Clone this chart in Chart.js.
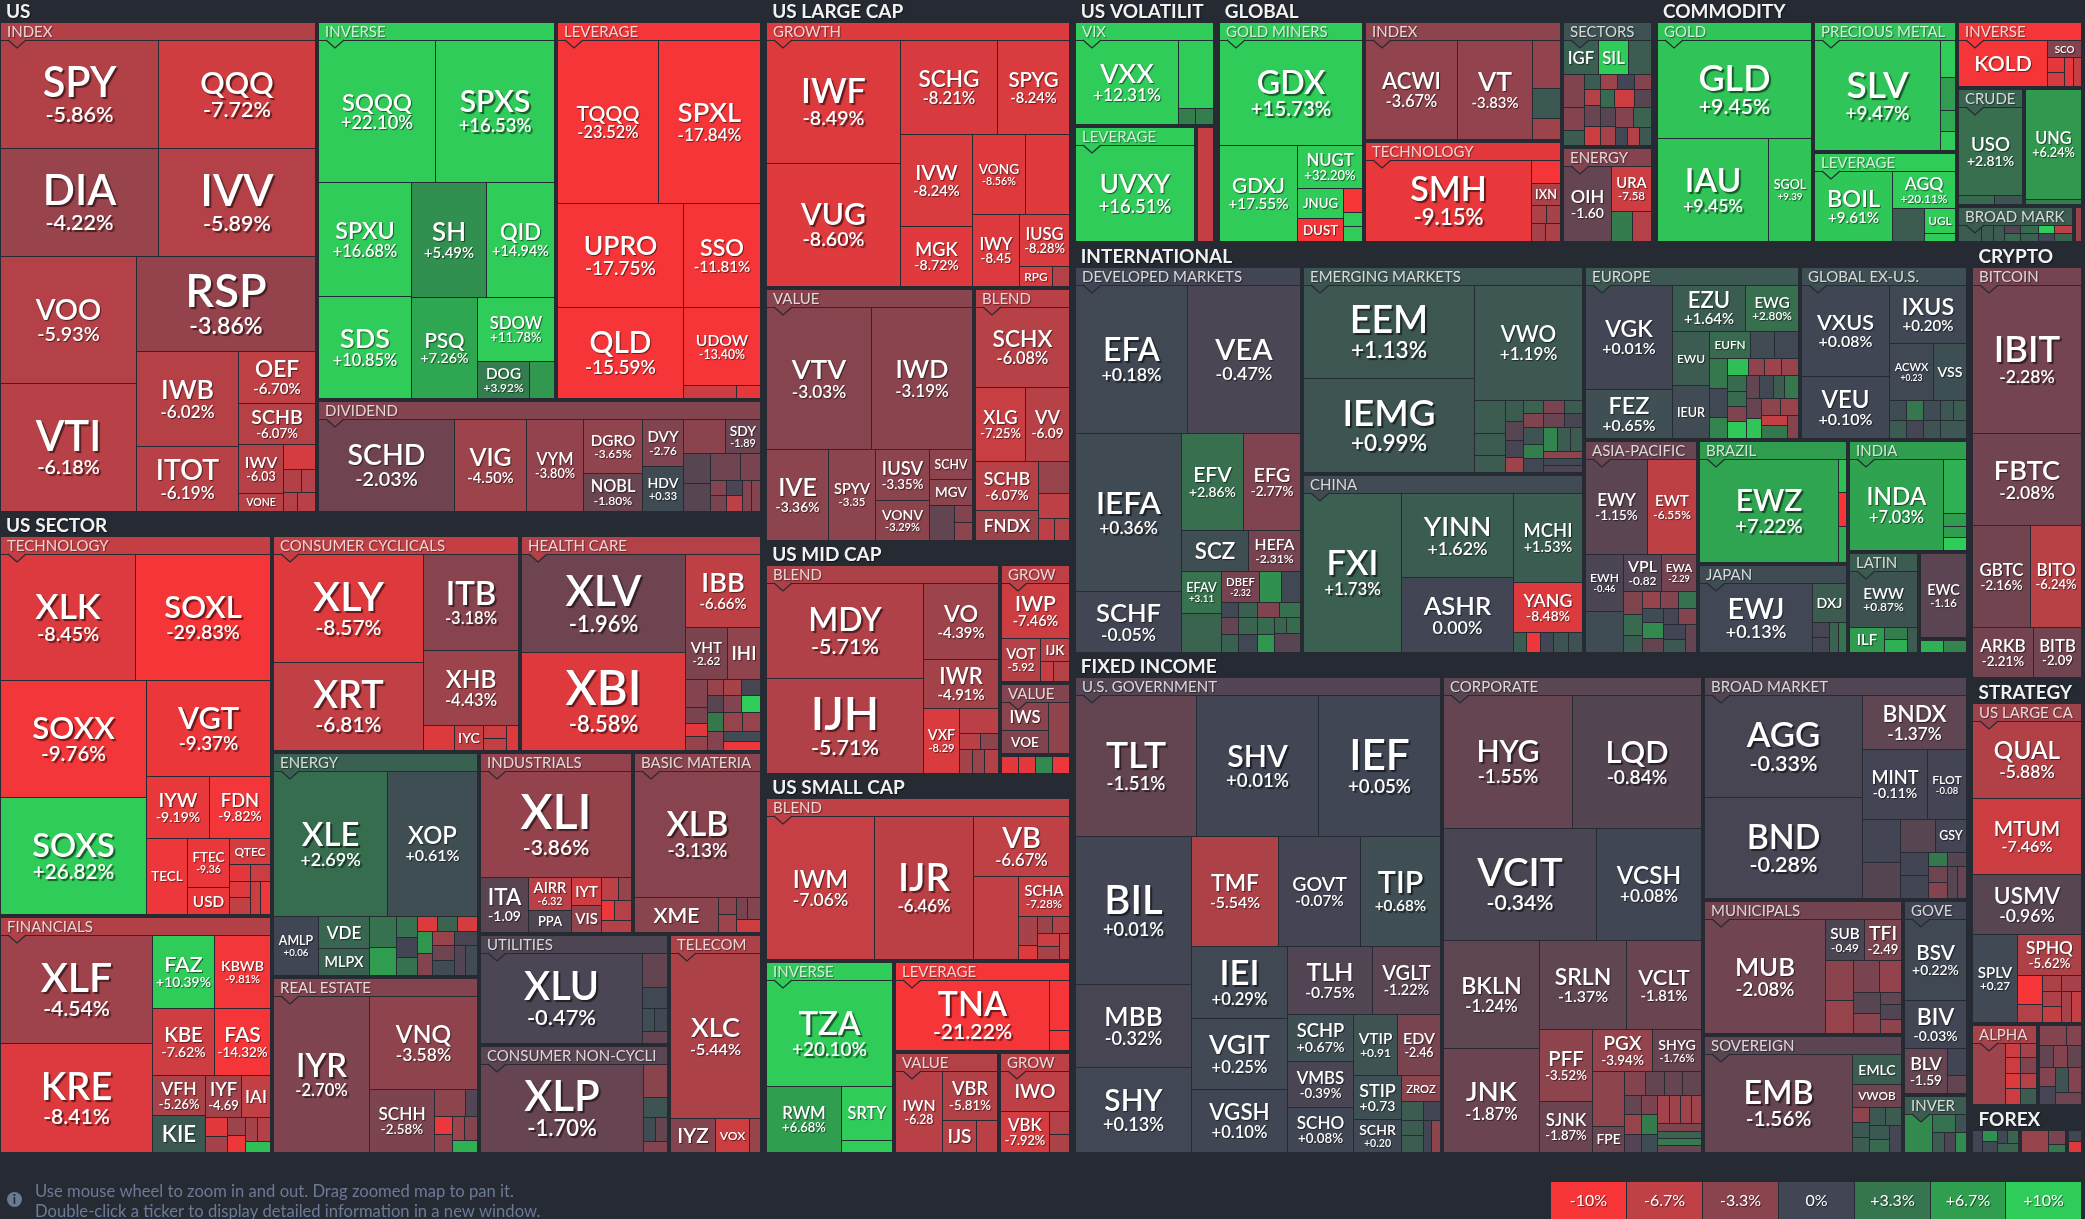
<!DOCTYPE html>
<html>
<head>
<meta charset="utf-8">
<title>ETF map</title>
<style>
  html, body { margin: 0; padding: 0; background: #262a33; overflow: hidden; }
  canvas { display: block; }
</style>
<script src="https://cdn.jsdelivr.net/npm/chart.js@4"></script>
</head>
<body>
<canvas id="myChart" width="2085" height="1219"></canvas>
<script>
// --- colour legend ---
const legendValues = [-10, -6.7, -3.3, 0, 3.3, 6.7, 10];
const legendLabels = ['-10%', '-6.7%', '-3.3%', '0%', '+3.3%', '+6.7%', '+10%'];
const legendColors = ['#f63538', '#bf4045', '#8b444e', '#414554', '#35764e', '#2f9e4f', '#30cc5a'];
const footerLines = ['Use mouse wheel to zoom in and out. Drag zoomed map to pan it.', 'Double-click a ticker to display detailed information in a new window.'];

// tickers that show no change line, and ones whose change has no % sign
const tickerOnly = ['VONE','TECL','USD','QTEC','IHI','IYC','IAI','KIE','VDE','MLPX','PPA','IYT','VIS','XME','IYZ','VOX','SCHV','MGV','FNDX','RPG','IJK','IWS','VOE','IWO','IJS','SRTY','JNUG','DUST','IXN','IGF','SIL','SCO','KOLD','UGL','SCZ','EWU','IEUR','EUFN','VSS','DXJ','ILF','ZROZ','FPE','GSY','VWOB','EMLC'];
const noPercent = ['IWV','DVY','SDY','HDV','FTEC','VHT','ITA','AIRR','AMLP','IYF','VOT','VXF','IWN','SPYV','IWY','VV','OIH','URA','SGOL','DBEF','EFAV','ACWX','EWH','VPL','EWA','EWC','VTIP','EDV','STIP','SCHR','FLOT','SUB','TFI','BLV','SPLV','BITB'];

// --- US ---
const usIndexTickers = ['SPY','QQQ','DIA','IVV','VOO','VTI','RSP','IWB','ITOT','OEF','SCHB','IWV','VONE','','','','',''];
const usIndexChanges = [-5.86,-7.72,-4.22,-5.89,-5.93,-6.18,-3.86,-6.02,-6.19,-6.70,-6.07,-6.03,-6.2,-8,-5.8,-6,-6,-6.3];
const usIndexWeights = [[16700,16700],[16700,16700],[17018,17018],[16920],[9494,6565],[3900],[3120],[2112,792],[792],[437,322],[270],[324]];
const usInverseTickers = ['SQQQ','SPXS','SPXU','SDS','SH','QID','PSQ','SDOW','DOG',''];
const usInverseChanges = [22.10,16.53,16.68,10.85,5.49,14.94,7.26,11.78,3.92,6.3];
const usInverseWeights = [[16356,16638],[10396,9292],[8436,7638],[6565],[4851],[1887],[925]];
const usLeverageTickers = ['TQQQ','SPXL','UPRO','QLD','SSO','UDOW','',''];
const usLeverageChanges = [-23.52,-17.84,-17.75,-15.59,-11.81,-13.40,-7.5,-9];
const usLeverageWeights = [[16100,16261],[12772,11284],[7931],[5929],[689],[312]];
const usDividendTickers = ['SCHD','VIG','VYM','DGRO','NOBL','DVY','HDV','','SDY','','','','','','','','','',''];
const usDividendChanges = [-2.03,-4.50,-3.80,-3.65,-1.80,-2.76,0.33,-3.3,-1.89,-1,-1,-2,-2.5,-3,-2.5,-0.5,-6.5,-3,-3];
const usDividendWeights = [[12012],[6370],[5005],[3074,2146],[1840,1760],[1376,1152],[783,729],[806,520],[240,240],[240,240],[270,270]];
const usGroupNames = ['INDEX','INVERSE','LEVERAGE','DIVIDEND'];
const usGroupChanges = [-5.8,13,-15,-3];
const usGroupWeights = [[156138],[90320,78000],[49900]];
const usGroupSeries = [[usIndexTickers,usIndexChanges,usIndexWeights],[usInverseTickers,usInverseChanges,usInverseWeights],[usLeverageTickers,usLeverageChanges,usLeverageWeights],[usDividendTickers,usDividendChanges,usDividendWeights]];

// --- US SECTOR ---
const techTickers = ['XLK','SOXL','SOXX','SOXS','VGT','IYW','FDN','TECL','FTEC','USD','QTEC','','','','','',''];
const techChanges = [-8.45,-29.83,-9.76,26.82,-9.37,-9.19,-9.82,-9.5,-9.36,-9.4,-8,-9,-7.5,-8.5,-6.8,-7.5,-9.5];
const techWeights = [[16616,16616],[16820,16820],[11780],[3780,3660],[3042],[2016,1092],[1092],[336,336],[336,336],[336,336]];
const finTickers = ['XLF','KRE','FAZ','KBWB','KBE','FAS','VFH','KIE','IYF','IAI','','','','','','',''];
const finChanges = [-4.54,-8.41,10.39,-9.81,-7.62,-14.32,-5.26,1.3,-4.69,-6.8,-8.8,-5,-4.5,-9.5,-5,-6,9];
const finWeights = [[16092,16241],[4464,4032],[4092,3696],[2091,1887],[1517,1189],[420,336],[324,306],[288,312],[275]];
const cycTickers = ['XLY','XRT','ITB','XHB','','IYC','','',''];
const cycChanges = [-8.57,-6.81,-3.18,-4.43,-8.5,-7,-7.5,-7,-8.5];
const cycWeights = [[15822,12892],[8930],[7030],[780],[728],[299,276],[286]];
const healthTickers = ['XLV','XBI','IBB','VHT','IHI','','','','','','','','','','','','','','','',''];
const healthChanges = [-1.96,-8.58,-6.66,-2.62,-3.6,-3,-2.5,-9,-4,-4,-5,-0.3,-1,-3,10,3.5,-3,-4,-4,0.5,-9.5];
const healthWeights = [[15974,15974],[5400],[2132,1716],[594,352,286,308],[255,289,306],[270,306,324],[300,300],[340,340],[360,360]];
const energyTickers = ['XLE','XOP','AMLP','VDE','MLPX','','','','','','','','','','','','','','','',''];
const energyChanges = [2.69,0.61,0.06,2.2,1.8,3,6.5,3,0,3,-8.5,2,-8,6,-3,-4,-0.3,-2,0.5,-0.8,0.4];
const energyWeights = [[15904,12638],[2537],[1632,1326],[837,729],[441,399,357],[292,292,292],[319,319],[319,319],[319,319],[319,319]];
const realTickers = ['IYR','VNQ','SCHH','','','','','','',''];
const realChanges = [-2.70,-3.58,-2.58,-3.5,-0.8,-9.5,-3.5,-4.5,-3,8];
const realWeights = [[14758],[9936],[4030],[832,312],[323,323],[299,299],[286]];
const indTickers = ['XLI','ITA','AIRR','PPA','IYT','VIS','','','','',''];
const indChanges = [-3.86,-1.09,-6.32,-0.6,-7.6,-3.6,-6.5,-4,-9.5,-6,-6];
const indWeights = [[15553],[2576],[1419,903],[812,754],[391,299],[260,340],[341]];
const basicTickers = ['XLB','XME','','','','',''];
const basicChanges = [-3.13,-3.2,-3.3,-4.5,-2.5,-3,-7.5];
const basicWeights = [[15498],[2835],[306,306],[242,286],[288]];
const utilTickers = ['XLU','','','','',''];
const utilChanges = [-0.47,-1.5,0.3,0.7,0.3,-1.5];
const utilWeights = [[14490],[850],[500],[264,286],[300]];
const staplesTickers = ['XLP','','','','',''];
const staplesChanges = [-1.70,-3.2,1,0.5,-1.5,-3];
const staplesWeights = [[14490],[800],[475],[299,276],[275]];
const telecomTickers = ['XLC','IYZ','VOX',''];
const telecomChanges = [-5.44,-2.9,-7.5,-4];
const telecomWeights = [[14850],[1540],[1155],[385]];
const sectorGroupNames = ['TECHNOLOGY','FINANCIALS','CONSUMER CYCLICALS','HEALTH CARE','ENERGY','REAL ESTATE','INDUSTRIALS','BASIC MATERIA','UTILITIES','CONSUMER NON-CYCLI','TELECOM'];
const sectorGroupChanges = [-7,-5.8,-7,-6,1.8,-3,-3.8,-3.3,-0.6,-1.2,-5.4];
const sectorGroupWeights = [[103968,65117],[53685,52553],[46234,36533],[28055,23349],[21146,20765],[20570]];
const sectorGroupSeries = [[techTickers,techChanges,techWeights],[finTickers,finChanges,finWeights],[cycTickers,cycChanges,cycWeights],[healthTickers,healthChanges,healthWeights],[energyTickers,energyChanges,energyWeights],[realTickers,realChanges,realWeights],[indTickers,indChanges,indWeights],[basicTickers,basicChanges,basicWeights],[utilTickers,utilChanges,utilWeights],[staplesTickers,staplesChanges,staplesWeights],[telecomTickers,telecomChanges,telecomWeights]];

// --- US LARGE CAP ---
const lgGrowthTickers = ['IWF','VUG','SCHG','SPYG','IVW','MGK','VONG','','IWY','IUSG','RPG',''];
const lgGrowthChanges = [-8.49,-8.60,-8.21,-8.24,-8.24,-8.72,-8.56,-8.6,-8.45,-8.28,-8.4,-6];
const lgGrowthWeights = [[16057,16189],[8924,6532],[6461,4260],[4187,3397],[3337],[2550],[660],[320]];
const lgValueTickers = ['VTV','IWD','IVE','SPYV','IUSV','VONV','SCHV','MGV','','',''];
const lgValueChanges = [-3.03,-3.19,-3.36,-3.35,-3.35,-3.29,-3.4,-3.2,-1.5,-3,-3.5];
const lgValueWeights = [[14560,14000],[5490],[4140],[2650,2120],[1247],[1118],[850],[288],[306]];
const lgBlendTickers = ['SCHX','XLG','VV','SCHB','FNDX','','','',''];
const lgBlendChanges = [-6.08,-7.25,-6.09,-6.07,-4.3,-4,-6.5,-6.5,-6];
const lgBlendWeights = [[7207],[3650,3139],[2976,1798],[930],[775],[330],[308]];
const largeGroupNames = ['GROWTH','VALUE','BLEND'];
const largeGroupChanges = [-8.5,-3.2,-6.3];
const largeGroupWeights = [[81396],[52592],[24520]];
const largeGroupSeries = [[lgGrowthTickers,lgGrowthChanges,lgGrowthWeights],[lgValueTickers,lgValueChanges,lgValueWeights],[lgBlendTickers,lgBlendChanges,lgBlendWeights]];

// --- US MID CAP ---
const midBlendTickers = ['MDY','IJH','VO','IWR','VXF','','','','','',''];
const midBlendChanges = [-5.71,-5.71,-4.39,-4.91,-8.29,-6.3,-6.3,-3.5,-5,-4,-6];
const midBlendWeights = [[14664,14820],[5625],[3600],[2275],[975],[336,288],[312],[288],[312]];
const midGrowTickers = ['IWP','VOT','IJK','',''];
const midGrowChanges = [-7.46,-5.92,-6.2,-7,-6];
const midGrowWeights = [[3685],[1672],[638],[273],[315]];
const midValueTickers = ['IWS','VOE',''];
const midValueChanges = [-3.3,-2.8,-3.5];
const midValueWeights = [[1269,1081],[1020]];
const midOtherTickers = ['','','',''];
const midOtherChanges = [-9,-9,4.8,-9.5];
const midOtherWeights = [[176],[187],[176],[176]];
const midGroupNames = ['BLEND','GROW','VALUE',''];
const midGroupChanges = [-5.5,-6.5,-3,0];
const midGroupWeights = [[49648],[8484],[5119],[1386]];
const midGroupSeries = [[midBlendTickers,midBlendChanges,midBlendWeights],[midGrowTickers,midGrowChanges,midGrowWeights],[midValueTickers,midValueChanges,midValueWeights],[midOtherTickers,midOtherChanges,midOtherWeights]];

// --- US SMALL CAP ---
const smBlendTickers = ['IWM','IJR','VB','','SCHA','','','','','','',''];
const smBlendChanges = [-7.06,-6.46,-6.67,-6.8,-7.28,-5,-8.5,-4.5,-5.8,-7.5,-5,-6.5];
const smBlendWeights = [[15052],[13916],[5626],[3696],[2014],[551,247],[255,272],[286,264],[250]];
const smInverseTickers = ['TZA','RWM','SRTY',''];
const smInverseChanges = [20.10,6.68,12,12];
const smInverseWeights = [[13250],[4884],[2703],[612]];
const smLeverageTickers = ['TNA','',''];
const smLeverageChanges = [-21.22,-11,-11];
const smLeverageWeights = [[10640],[1000],[400]];
const smValueTickers = ['IWN','VBR','IJS',''];
const smValueChanges = [-6.28,-5.81,-6,-6.4];
const smValueWeights = [[3680],[2592],[1056],[640]];
const smGrowTickers = ['IWO','VBK','',''];
const smGrowChanges = [-6.5,-7.92,-6,-5.5];
const smGrowWeights = [[2652],[1968],[460],[340]];
const smallGroupNames = ['BLEND','INVERSE','LEVERAGE','VALUE','GROW'];
const smallGroupChanges = [-6.7,12,-20,-6,-6.5];
const smallGroupWeights = [[50000],[24929],[16258],[10710],[7375]];
const smallGroupSeries = [[smBlendTickers,smBlendChanges,smBlendWeights],[smInverseTickers,smInverseChanges,smInverseWeights],[smLeverageTickers,smLeverageChanges,smLeverageWeights],[smValueTickers,smValueChanges,smValueWeights],[smGrowTickers,smGrowChanges,smGrowWeights]];

// --- US VOLATILITY ---
const vixTickers = ['VXX','','',''];
const vixChanges = [12.31,12,4,4];
const vixWeights = [[8364],[2310],[272],[272]];
const volLevTickers = ['UVXY'];
const volLevChanges = [16.51];
const volLevWeights = [[1]];
const volOtherTickers = [''];
const volOtherChanges = [-7];
const volOtherWeights = [[1]];
const volGroupNames = ['VIX','LEVERAGE',''];
const volGroupChanges = [12,12,0];
const volGroupWeights = [[14664],[14274],[2223]];
const volGroupSeries = [[vixTickers,vixChanges,vixWeights],[volLevTickers,volLevChanges,volLevWeights],[volOtherTickers,volOtherChanges,volOtherWeights]];

// --- GLOBAL ---
const minersTickers = ['GDX','GDXJ','NUGT','JNUG','DUST','','',''];
const minersChanges = [15.73,17.55,32.20,28,-28,-12,12,12];
const minersWeights = [[14626],[7296],[2640],[1380,1012],[437],[266],[266]];
const glIndexTickers = ['ACWI','VT','','',''];
const glIndexChanges = [-3.67,-3.83,-3.8,1.3,-4.5];
const glIndexWeights = [[8700],[6984],[1288],[812],[560]];
const glTechTickers = ['SMH','','IXN','','','',''];
const glTechChanges = [-9.15,-11,-5.5,-5.5,-5,-5,-5.5];
const glTechWeights = [[13120],[638],[609],[255,238],[238],[255]];
const glSectorTickers = ['IGF','SIL','','','','','','','','','','','','','','','','','','','','',''];
const glSectorChanges = [1.8,13,1.5,-2.8,-3,1.5,1.5,-4.5,0,-3,-6,-1.8,-7.5,2.5,-7.5,-1,-1,-5,-3,2,0.3,-6,1.2];
const glSectorWeights = [[1120,928,736],[651,441,294],[240,240,240,240],[240,320,288],[240,320,288],[272,272],[340,340],[198],[198],[198]];
const glEnergyTickers = ['OIH','URA','',''];
const glEnergyChanges = [-1.60,-7.58,3.8,-6];
const glEnergyWeights = [[3525],[1716],[600],[570]];
const globalGroupNames = ['GOLD MINERS','INDEX','TECHNOLOGY','SECTORS','ENERGY'];
const globalGroupChanges = [15,-3.5,-9,0.8,-3];
const globalGroupWeights = [[32266],[23562,20196],[11375],[8736]];
const globalGroupSeries = [[minersTickers,minersChanges,minersWeights],[glIndexTickers,glIndexChanges,glIndexWeights],[glTechTickers,glTechChanges,glTechWeights],[glSectorTickers,glSectorChanges,glSectorWeights],[glEnergyTickers,glEnergyChanges,glEnergyWeights]];

// --- COMMODITY ---
const goldTickers = ['GLD','IAU','SGOL'];
const goldChanges = [9.45,9.45,9.39];
const goldWeights = [[14841],[11220],[4386]];
const preciousTickers = ['SLV','','','',''];
const preciousChanges = [9.47,10,6.5,7.5,10];
const preciousWeights = [[13625],[540],[480],[300],[285]];
const cmLevTickers = ['BOIL','AGQ','','UGL',''];
const cmLevChanges = [9.61,20.11,1.5,12,12];
const cmLevWeights = [[5236],[2268],[1024],[744],[248]];
const cmInvTickers = ['KOLD','SCO','','','',''];
const cmInvChanges = [-15,-3,-9,-8,-9,-7];
const cmInvWeights = [[3915],[560],[238,221],[238,221]];
const crudeTickers = ['USO','',''];
const crudeChanges = [2.81,2.5,1];
const crudeWeights = [[5418],[315],[252]];
const ungTickers = ['UNG',''];
const ungChanges = [6.24,4];
const ungWeights = [[5610],[275]];
const cmBroadTickers = ['','','','','','','','','','',''];
const cmBroadChanges = [1.5,1.5,1.5,-0.8,2.5,2.5,1.8,10,0.2,-6.5,2];
const cmBroadWeights = [[357],[187],[170],[120,120],[136,136],[128,128],[136,136]];
const cmOtherTickers = [''];
const cmOtherChanges = [-4];
const cmOtherWeights = [[1]];
const commodityGroupNames = ['GOLD','PRECIOUS METAL','LEVERAGE','INVERSE','CRUDE','','BROAD MARK',''];
const commodityGroupChanges = [9.5,9.5,10,-13,2,0,1.5,0];
const commodityGroupWeights = [[34697],[18792,13032],[8404],[7839,6903],[4329],[333]];
const commodityGroupSeries = [[goldTickers,goldChanges,goldWeights],[preciousTickers,preciousChanges,preciousWeights],[cmLevTickers,cmLevChanges,cmLevWeights],[cmInvTickers,cmInvChanges,cmInvWeights],[crudeTickers,crudeChanges,crudeWeights],[ungTickers,ungChanges,ungWeights],[cmBroadTickers,cmBroadChanges,cmBroadWeights],[cmOtherTickers,cmOtherChanges,cmOtherWeights]];

// --- INTERNATIONAL ---
const devTickers = ['EFA','VEA','IEFA','SCHF','EFV','EFG','SCZ','HEFA','EFAV','','DBEF','','','','','','','','','','','','','','',''];
const devChanges = [0.18,-0.47,0.36,-0.05,2.86,-2.77,0.6,-2.31,3.11,2,-2.32,5.5,0.3,0.3,-1.5,1.8,1.8,2,0.3,-2.8,2.8,2.5,6,2,2.5,-1];
const devWeights = [[16317,16464],[16432,6344],[5890,5415],[2680,2080],[1634,1520],[1140,660,570],[255,289,306],[270,306,324],[330,315],[289,306],[187,238],[468]];
const emTickers = ['EEM','IEMG','VWO','','','','','','','','','','','','','','','','','','','','','',''];
const emChanges = [1.13,0.99,1.19,1.5,1.5,1.5,1.5,-1,-0.3,-4.5,2,-2.5,1.5,-2.8,-1.8,-0.3,1,4,0.2,4.5,1.5,1.5,-3.5,0.3,-0.6];
const emWeights = [[15531,15531],[12210],[990,690,510],[357,323,289,255],[260,260,234],[280,280,252],[320,280,280],[320,280,280],[288,252,252]];
const chinaTickers = ['FXI','YINN','ASHR','MCHI','YANG','','','','',''];
const chinaChanges = [1.73,1.62,0,1.53,-8.48,1.5,-9.5,0,1,0.8];
const chinaWeights = [[15168],[9130,8140],[6020],[3360],[252],[273],[252],[273],[273]];
const europeTickers = ['VGK','FEZ','EZU','EWG','EWU','IEUR','EUFN','','','','','','','','','','','','','','','','','','','','','','','',''];
const europeChanges = [0.01,0.65,1.64,2.80,1.5,0.4,2.5,0.4,0.2,3.5,0.3,4.5,9,-3.5,-4.5,-4,2.5,2.5,-2.8,9.8,-1.5,0.3,1.5,3.5,-1.7,9.5,-3.5,-4,-7,3.5,-3];
const europeWeights = [[8652,4032],[3212,2376],[1855,1855],[1025,625,600],[540,504,378],[340,272,289,289],[288,266,285,304],[272,304,247,323],[272,272],[288,288],[264,308],[252]];
const exUsTickers = ['VXUS','VEU','IXUS','ACWX','VSS','','','','','','','','',''];
const exUsChanges = [0.08,0.10,0.20,0.23,0.7,0.5,1.5,3.5,-0.2,0.5,1,1.2,1.5,1.2];
const exUsWeights = [[7826,5246],[4389],[2508,1881],[340,306],[320,288],[320,288],[260,260],[468]];
const asiaTickers = ['EWY','EWT','EWH','','VPL','EWA','','','','','','','','','','','','','',''];
const asiaChanges = [-1.15,-6.55,-0.46,0.5,-0.82,-2.29,-2.8,2.5,1.5,-4,-3,3,0.5,5,-1.5,-0.2,-3,0,1.2,-1.5];
const asiaWeights = [[5612,4508],[2052,1476],[1368,1260],[414,396,306],[289,306,289],[280,300,280],[240,272],[308,264],[297]];
const brazilTickers = ['EWZ','','',''];
const brazilChanges = [7.22,9,-10,7.5];
const brazilWeights = [[14111],[288],[297],[315]];
const japanTickers = ['EWJ','DXJ','','','',''];
const japanChanges = [0.13,1.5,-0.2,-0.2,2,3];
const japanWeights = [[7590],[1330],[255,255],[255,255]];
const indiaTickers = ['INDA','','','',''];
const indiaChanges = [7.03,8,6.5,6.5,10];
const indiaWeights = [[8372],[1248],[288],[264],[288]];
const latinTickers = ['EWW','ILF','','',''];
const latinChanges = [0.87,6.5,4,8,1.5];
const latinWeights = [[3630],[825],[264,286],[250]];
const canadaTickers = ['EWC'];
const canadaChanges = [-1.16];
const canadaWeights = [[1]];
const intlOtherTickers = ['',''];
const intlOtherChanges = [8,4.5];
const intlOtherWeights = [[1],[1]];
const intlGroupNames = ['DEVELOPED MARKETS','EMERGING MARKETS','CHINA','EUROPE','GLOBAL EX-U.S.','ASIA-PACIFIC','BRAZIL','JAPAN','INDIA','LATIN','',''];
const intlGroupChanges = [0,1.1,0.4,1.2,0.7,-1.8,6.5,0.5,6.8,1.5,0,0];
const intlGroupWeights = [[88887],[58693,50811],[37805,29350],[24482],[18682,13527],[13476],[7201],[4298],[741]];
const intlGroupSeries = [[devTickers,devChanges,devWeights],[emTickers,emChanges,emWeights],[chinaTickers,chinaChanges,chinaWeights],[europeTickers,europeChanges,europeWeights],[exUsTickers,exUsChanges,exUsWeights],[asiaTickers,asiaChanges,asiaWeights],[brazilTickers,brazilChanges,brazilWeights],[japanTickers,japanChanges,japanWeights],[indiaTickers,indiaChanges,indiaWeights],[latinTickers,latinChanges,latinWeights],[canadaTickers,canadaChanges,canadaWeights],[intlOtherTickers,intlOtherChanges,intlOtherWeights]];

// --- FIXED INCOME ---
const govTickers = ['TLT','SHV','IEF','BIL','MBB','SHY','TMF','GOVT','TIP','IEI','VGIT','VGSH','TLH','VGLT','SCHP','VMBS','SCHO','VTIP','EDV','STIP','SCHR','ZROZ','','','','','',''];
const govChanges = [-1.51,0.01,0.05,0.01,-0.32,0.13,-5.54,-0.07,0.68,0.29,0.25,0.10,-0.75,-1.22,0.67,-0.39,0.08,0.91,-2.46,0.73,0.20,-3.2,1.5,0,1.5,1.5,0,-3.5];
const govWeights = [[16819,16819,16819],[16905,9545,9660],[9288,8856,8532],[6768,6580,5922],[5695,4556],[3055,2990,2925],[2640,2580],[2068,1551],[1025],[396,306],[330,374],[255,289]];
const corpTickers = ['HYG','LQD','VCIT','VCSH','BKLN','JNK','SRLN','VCLT','PFF','SJNK','PGX','SHYG','','FPE','','','','','','','','','','','','','','','','','',''];
const corpChanges = [-1.55,-0.84,-0.34,0.08,-1.24,-1.87,-1.37,-1.81,-3.52,-1.87,-3.94,-1.76,-3.5,-1.8,-3,-1.5,-1.7,-1.5,-1.6,-4,-0.8,-2.6,3.8,0.5,-4.8,-4.5,-4.5,-4.5,-2.7,2,3.6,-1.6];
const corpWeights = [[16640,16640],[16720,11440],[10044,9765],[7569,6438],[3723,2652],[2460,2009],[1680,810],[480,432,432,432],[304,320,288],[304,320,288],[315,294,294,273],[330,308,308,286]];
const bondTickers = ['AGG','BND','BNDX','MINT','FLOT','','','','GSY','','','','','','','',''];
const bondChanges = [-0.33,-0.28,-1.37,-0.11,-0.08,-0.1,-0.9,-1,-0.1,0,0,3.5,-0.9,-2,-3,-1,-1.5];
const bondWeights = [[15810,15500],[5512],[4420,2720],[1628,1332],[1120,1024],[621,621],[266,280],[304,285],[320,300]];
const muniTickers = ['MUB','SUB','TFI','','','','','','','','',''];
const muniChanges = [-2.08,-0.49,-2.49,-3.3,-4,-2.5,-3.8,-1,-3.2,-1.5,-0.7,-3.5];
const muniWeights = [[13680],[1596,1512],[1107,891],[800,672],[546,520],[252],[315],[273]];
const sovTickers = ['EMB','EMLC','VWOB','','','','','','','',''];
const sovChanges = [-1.56,1.5,-2,-3.5,1.2,1.5,1.2,1.5,1.2,2.5,-0.2];
const sovWeights = [[14308],[1470],[1078],[255,238,255],[288,270],[280,260],[297]];
const goveTickers = ['BSV','BIV','BLV','',''];
const goveChanges = [0.22,-0.03,-1.59,0,-1.5];
const goveWeights = [[4960],[2976],[1892],[513],[323]];
const inverTickers = ['','','','','',''];
const inverChanges = [5,3,0.8,1.5,-0.5,5];
const inverWeights = [[1026],[396,198],[220],[200],[220]];
const fixedGroupNames = ['U.S. GOVERNMENT','CORPORATE','BROAD MARKET','MUNICIPALS','SOVEREIGN','GOVE','INVER'];
const fixedGroupChanges = [-0.8,-1.1,-0.7,-2.2,-1.2,0,1.5];
const fixedGroupWeights = [[175904],[124758],[59366],[26960,23844],[12831],[3909]];
const fixedGroupSeries = [[govTickers,govChanges,govWeights],[corpTickers,corpChanges,corpWeights],[bondTickers,bondChanges,bondWeights],[muniTickers,muniChanges,muniWeights],[sovTickers,sovChanges,sovWeights],[goveTickers,goveChanges,goveWeights],[inverTickers,inverChanges,inverWeights]];

// --- CRYPTO ---
const bitcoinTickers = ['IBIT','FBTC','GBTC','BITO','ARKB','BITB'];
const bitcoinChanges = [-2.28,-2.08,-2.16,-6.24,-2.21,-2.09];
const bitcoinWeights = [[15729],[9844],[5712,5100],[3000],[2350]];
const cryptoGroupNames = ['BITCOIN'];
const cryptoGroupChanges = [-2.3];
const cryptoGroupWeights = [[1]];
const cryptoGroupSeries = [[bitcoinTickers,bitcoinChanges,bitcoinWeights]];

// --- STRATEGY ---
const stLargeTickers = ['QUAL','MTUM','USMV','SPLV','SPHQ','','','','','','','',''];
const stLargeChanges = [-5.88,-7.46,-0.96,0.27,-5.62,-10,-6,-5.5,-5,-5.5,-7,-5,-7];
const stLargeWeights = [[8132],[7918],[6313],[3738],[2535],[696,432],[304,304],[285,304],[285,304]];
const alphaTickers = ['','','','','','','','',''];
const alphaChanges = [-4.5,-7.5,-5,-7.5,-2.8,-8.5,-6,-7.5,1.5];
const alphaWeights = [[1769],[195,195],[225,225],[210,210],[225],[225]];
const stOtherTickers = ['','','','','','','','','',''];
const stOtherChanges = [-3,-3,-1.5,-3,-1.5,-3,-0.2,1,-3,-2];
const stOtherWeights = [[468,252],[260,280,260],[256,256],[286,264],[275]];
const strategyGroupNames = ['US LARGE CA','ALPHA',''];
const strategyGroupChanges = [-4.5,-5,0];
const strategyGroupWeights = [[35853],[5412],[3690]];
const strategyGroupSeries = [[stLargeTickers,stLargeChanges,stLargeWeights],[alphaTickers,alphaChanges,alphaWeights],[stOtherTickers,stOtherChanges,stOtherWeights]];

// --- FOREX ---
const fxOneTickers = ['','','','','',''];
const fxOneChanges = [0,5.5,0.3,0.3,2,2];
const fxOneWeights = [[136],[112,112],[96,96],[119]];
const fxTwoTickers = ['','',''];
const fxTwoChanges = [-4,-2.5,3.5];
const fxTwoWeights = [[425],[170],[102]];
const fxThreeTickers = ['',''];
const fxThreeChanges = [0,-8.5];
const fxThreeWeights = [[88],[88]];
const forexGroupNames = ['','',''];
const forexGroupChanges = [0,0,0];
const forexGroupWeights = [[48],[47.7],[15.7]];
const forexGroupSeries = [[fxOneTickers,fxOneChanges,fxOneWeights],[fxTwoTickers,fxTwoChanges,fxTwoWeights],[fxThreeTickers,fxThreeChanges,fxThreeWeights]];

// --- top level ---
const sectionTitles = ['US','US SECTOR','US LARGE CAP','US MID CAP','US SMALL CAP','US VOLATILIT','GLOBAL','COMMODITY','INTERNATIONAL','FIXED INCOME','CRYPTO','STRATEGY','FOREX'];
const sectionWeights = [[394490,491772],[167787,71997,117111],[35280,107310,105350],[368872,449648],[49979],[48949],[5496]];
const sectionGroups = [
  [usGroupNames,usGroupChanges,usGroupWeights,usGroupSeries],
  [sectorGroupNames,sectorGroupChanges,sectorGroupWeights,sectorGroupSeries],
  [largeGroupNames,largeGroupChanges,largeGroupWeights,largeGroupSeries],
  [midGroupNames,midGroupChanges,midGroupWeights,midGroupSeries],
  [smallGroupNames,smallGroupChanges,smallGroupWeights,smallGroupSeries],
  [volGroupNames,volGroupChanges,volGroupWeights,volGroupSeries],
  [globalGroupNames,globalGroupChanges,globalGroupWeights,globalGroupSeries],
  [commodityGroupNames,commodityGroupChanges,commodityGroupWeights,commodityGroupSeries],
  [intlGroupNames,intlGroupChanges,intlGroupWeights,intlGroupSeries],
  [fixedGroupNames,fixedGroupChanges,fixedGroupWeights,fixedGroupSeries],
  [cryptoGroupNames,cryptoGroupChanges,cryptoGroupWeights,cryptoGroupSeries],
  [strategyGroupNames,strategyGroupChanges,strategyGroupWeights,strategyGroupSeries],
  [forexGroupNames,forexGroupChanges,forexGroupWeights,forexGroupSeries],
];

const FONT = 'Lato, "Noto Sans", sans-serif';
const BG = '#262a33';

function hexRgb(h) {
  return [1, 3, 5].map(i => parseInt(h.substr(i, 2), 16));
}

function changeColor(v) {
  if (v <= legendValues[0]) return legendColors[0];
  const last = legendValues.length - 1;
  if (v >= legendValues[last]) return legendColors[last];
  let i = 0;
  while (v > legendValues[i + 1]) i++;
  const t = (v - legendValues[i]) / (legendValues[i + 1] - legendValues[i]);
  const a = hexRgb(legendColors[i]), b = hexRgb(legendColors[i + 1]);
  return 'rgb(' + a.map((c, k) => Math.round(c + (b[k] - c) * t)).join(',') + ')';
}

// strip treemap: each inner array of weights is one row or column, same rule as squarify
function place(box, strips) {
  let { x0, y0, x1, y1 } = box;
  let remain = 0;
  strips.forEach(s => s.forEach(w => remain += w));
  const out = [];
  strips.forEach(s => {
    const sum = s.reduce((a, b) => a + b, 0);
    const dx = x1 - x0, dy = y1 - y0;
    if (dx < dy * 1.03) {
      const h = dy * sum / remain;
      let x = x0;
      s.forEach(w => {
        const ww = dx * w / sum;
        out.push({ x0: x, y0: y0, x1: x + ww, y1: y0 + h });
        x += ww;
      });
      y0 += h;
    } else {
      const ww = dx * sum / remain;
      let y = y0;
      s.forEach(w => {
        const h = dy * w / sum;
        out.push({ x0: x0, y0: y, x1: x0 + ww, y1: y + h });
        y += h;
      });
      x0 += ww;
    }
    remain -= sum;
  });
  return out;
}

// build the marks from the arrays above
const marks = [];
const titleMarks = [];
const HEADER = 17;
place({ x0: -2.5, y0: 0, x1: 2084.5, y1: 1155.5 }, sectionWeights).forEach((sec, si) => {
  titleMarks.push({ text: sectionTitles[si], x0: sec.x0, x1: sec.x1, y0: sec.y0 });
  const [names, changes, weights, series] = sectionGroups[si];
  const inner = { x0: sec.x0 + 1.5, y0: sec.y0 + 21, x1: sec.x1 - 1.5, y1: sec.y1 - 1.5 };
  place(inner, weights).forEach((g, gi) => {
    const gx0 = g.x0 + 2, gy0 = g.y0 + 2, gx1 = g.x1 - 2, gy1 = g.y1 - 2;
    const hdr = names[gi] ? HEADER + 1 : 0;
    if (names[gi]) {
      marks.push({ kind: 'header', name: names[gi], color: changeColor(changes[gi]), x0: gx0, y0: gy0, x1: gx1 + 1, y1: gy0 + hdr });
    }
    const [tk, ch, wt] = series[gi];
    place({ x0: gx0, y0: gy0 + hdr, x1: gx1 + 1, y1: gy1 + 1 }, wt).forEach((r, i) => {
      marks.push({ kind: 'cell', ticker: tk[i] || '', change: ch[i], color: changeColor(ch[i]), x0: r.x0, y0: r.y0, x1: r.x1, y1: r.y1 });
    });
  });
});
legendValues.forEach((v, i) => {
  marks.push({ kind: 'legend', name: legendLabels[i], color: legendColors[i], x0: 1551 + i * 75.9, y0: 1182, x1: 1551 + (i + 1) * 75.9, y1: 1220 });
});

function changeText(t, v) {
  const s = v === 0 ? '0.00' : (v > 0 ? '+' : '') + v.toFixed(2);
  return noPercent.includes(t) ? s : s + '%';
}

function shadow(ctx, d) {
  ctx.shadowColor = 'rgba(0,0,0,0.55)';
  ctx.shadowOffsetX = d;
  ctx.shadowOffsetY = d;
  ctx.shadowBlur = 1;
}

function drawCellLabel(ctx, el, m) {
  if (!m.ticker) return;
  const w = el.width, h = el.height;
  const withChange = !tickerOnly.includes(m.ticker);
  ctx.font = '600 100px ' + FONT;
  const em = ctx.measureText(m.ticker).width / 100;
  const target = Math.min((0.4 * w + 18) * Math.pow(m.ticker.length / 3.5, 0.6), w * 0.78);
  let fs = Math.min(target / em, h * (withChange ? 0.49 : 0.62));
  let fc = 0, txt = '', gap = 0;
  if (withChange) {
    txt = changeText(m.ticker, m.change);
    fc = (0.08 * w + 9) * (noPercent.includes(m.ticker) ? 1.1 : 1);
    const em2 = ctx.measureText(txt).width / 100;
    fc = Math.min(fc, fs * 0.78, w * 0.94 / em2, h * 0.33);
    gap = 0.2 * fs + 1;
  }
  const capT = 0.72 * fs, capC = 0.72 * fc;
  const top = el.y + (h - (capT + gap + capC)) / 2;
  shadow(ctx, fs > 30 ? 2 : 1);
  ctx.fillStyle = '#fff';
  ctx.textAlign = 'center';
  ctx.textBaseline = 'alphabetic';
  ctx.font = '600 ' + fs.toFixed(1) + 'px ' + FONT;
  ctx.fillText(m.ticker, el.x, top + capT);
  if (withChange) {
    ctx.font = '600 ' + fc.toFixed(1) + 'px ' + FONT;
    ctx.fillText(txt, el.x, top + capT + gap + capC);
  }
}

function drawHeader(ctx, el, m) {
  const left = el.x - el.width / 2;
  const bottom = el.base;
  // little notch under the header bar
  ctx.beginPath();
  ctx.moveTo(left + 7, bottom);
  ctx.lineTo(left + 16, bottom + 8);
  ctx.lineTo(left + 25, bottom);
  ctx.fillStyle = m.color;
  ctx.fill();
  ctx.strokeStyle = BG;
  ctx.lineWidth = 1.2;
  ctx.stroke();
  ctx.save();
  ctx.beginPath();
  ctx.rect(left, el.y, el.width, el.height);
  ctx.clip();
  shadow(ctx, 1);
  ctx.fillStyle = 'rgba(255,255,255,0.8)';
  ctx.font = '15px ' + FONT;
  ctx.textAlign = 'left';
  ctx.textBaseline = 'alphabetic';
  ctx.fillText(m.name, left + 6, el.y + 14);
  ctx.restore();
}

class TreemapCellController extends Chart.DatasetController {
  update() {
    const meta = this._cachedMeta;
    this.updateElements(meta.data, 0, meta.data.length);
  }
  updateElements(els, start, count) {
    const xs = this._cachedMeta.xScale, ys = this._cachedMeta.yScale;
    const rows = this.getDataset().data;
    for (let i = start; i < start + count; i++) {
      const r = rows[i];
      const left = Math.round(xs.getPixelForValue(r.x0));
      const right = Math.round(xs.getPixelForValue(r.x1)) - 1;
      const top = Math.round(ys.getPixelForValue(r.y0));
      const bottom = Math.round(ys.getPixelForValue(r.y1)) - 1;
      Object.assign(els[i], {
        x: (left + right) / 2, y: top, base: bottom,
        width: right - left, height: bottom - top,
        horizontal: false, inflateAmount: 0, enableBorderRadius: false, borderSkipped: {},
        options: { backgroundColor: r.color, borderColor: r.color, borderWidth: 0, borderRadius: 0, borderSkipped: false }
      });
    }
  }
  draw() {
    super.draw();
    const ctx = this._ctx;
    const xs = this._cachedMeta.xScale, ys = this._cachedMeta.yScale;
    const rows = this.getDataset().data;
    ctx.save();
    this._cachedMeta.data.forEach((el, i) => {
      const m = rows[i];
      ctx.save();
      if (m.kind === 'cell') drawCellLabel(ctx, el, m);
      else if (m.kind === 'header') drawHeader(ctx, el, m);
      else {
        shadow(ctx, 1);
        ctx.fillStyle = '#fff';
        ctx.font = '16px ' + FONT;
        ctx.textAlign = 'center';
        ctx.textBaseline = 'middle';
        ctx.fillText(m.name, el.x, el.y + el.height / 2);
      }
      ctx.restore();
    });
    titleMarks.forEach(t => {
      const x0 = xs.getPixelForValue(t.x0), x1 = xs.getPixelForValue(t.x1);
      ctx.save();
      ctx.beginPath();
      ctx.rect(x0, ys.getPixelForValue(t.y0), x1 - x0, 24);
      ctx.clip();
      shadow(ctx, 1);
      ctx.fillStyle = '#f2f2f2';
      ctx.font = '700 19px ' + FONT;
      ctx.textAlign = 'left';
      ctx.textBaseline = 'alphabetic';
      ctx.fillText(t.text, x0 + 8.5, ys.getPixelForValue(t.y0) + 18);
      ctx.restore();
    });
    // footer note
    ctx.fillStyle = '#6c7a96';
    ctx.beginPath();
    ctx.arc(14.5, 1199.5, 7.5, 0, Math.PI * 2);
    ctx.fill();
    ctx.fillStyle = BG;
    ctx.font = 'bold 13px ' + FONT;
    ctx.textAlign = 'center';
    ctx.textBaseline = 'middle';
    ctx.fillText('i', 14.5, 1200);
    ctx.fillStyle = '#6c7a96';
    ctx.font = '16.6px ' + FONT;
    ctx.textAlign = 'left';
    ctx.textBaseline = 'alphabetic';
    ctx.fillText(footerLines[0], 35, 1197);
    ctx.fillText(footerLines[1], 35, 1217);
    ctx.restore();
  }
}
TreemapCellController.id = 'treemapCell';
TreemapCellController.defaults = { dataElementType: 'bar' };
Chart.register(TreemapCellController);

new Chart(document.getElementById('myChart'), {
  type: 'treemapCell',
  data: { datasets: [{ data: marks, parsing: false, clip: false }] },
  options: {
    responsive: false,
    animation: false,
    events: [],
    layout: { padding: 0 },
    plugins: { legend: { display: false }, tooltip: { enabled: false }, title: { display: false } },
    scales: {
      x: { type: 'linear', display: false, min: 0, max: 2085 },
      y: { type: 'linear', display: false, reverse: true, min: 0, max: 1219 }
    }
  }
});
</script>
</body>
</html>
